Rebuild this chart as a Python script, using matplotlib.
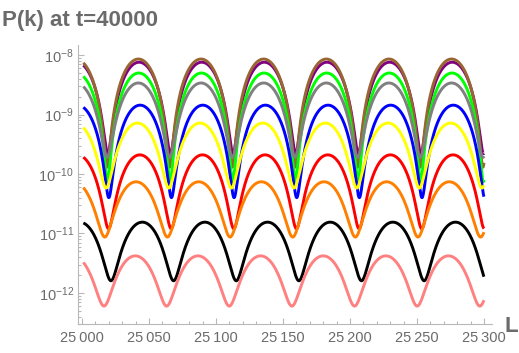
import numpy as np
import matplotlib
matplotlib.use('Agg')
import matplotlib.pyplot as plt
from matplotlib.ticker import FixedLocator, FuncFormatter, LogLocator, NullFormatter

plt.rcParams['font.family'] = ['Liberation Sans', 'DejaVu Sans']
plt.rcParams['mathtext.fontset'] = 'custom'
plt.rcParams['mathtext.rm'] = 'Liberation Sans'
plt.rcParams['mathtext.it'] = 'Liberation Sans:italic'

# values: one entry per curve
names = ['purple', 'brown', 'green', 'gray', 'blue', 'yellow', 'red', 'orange', 'black', 'pink']
colors = [(0.5, 0.0, 0.5), (0.6, 0.4, 0.2), (0.0, 1.0, 0.0), (0.5, 0.5, 0.5), (0.0, 0.0, 1.0),
          (1.0, 1.0, 0.0), (1.0, 0.0, 0.0), (1.0, 0.5, 0.0), (0.0, 0.0, 0.0), (1.0, 0.5, 0.5)]
peaks = [7.6e-9, 8.6e-9, 5.0e-9, 3.4e-9, 1.44e-9, 7.2e-10, 2.1e-10, 7.4e-11, 1.55e-11, 4.2e-12]
troughs = [2.2e-10, 1.3e-10, 7.4e-11, 1.9e-10, 4.0e-11, 5.8e-11, 1.2e-11, 8.7e-12, 1.6e-12, 6.0e-13]
trough_L = [25019.2, 25018.7, 25019.0, 25018.7, 25020.0, 25018.0, 25019.8, 25017.0, 25021.6, 25016.4]
period = 46.75
L_start, L_end = 25001, 25300

xticks = [25000, 25050, 25100, 25150, 25200, 25250, 25300]
ydecades = [1e-12, 1e-11, 1e-10, 1e-9, 1e-8]

L = np.linspace(L_start, L_end, 3000)

fig = plt.figure(figsize=(5.19, 3.53), dpi=100, facecolor='white')
ax = fig.add_axes((78/519, 29/353, 414/519, 279/353))

for c, pk, tr, l0 in zip(colors, peaks, troughs, trough_L):
  P = tr + (pk - tr)*np.sin(np.pi*(L - l0)/period)**2
  ax.plot(L, P, color=c, lw=2.1, solid_capstyle='butt')

ax.set_yscale('log')
ax.set_xlim(24997, 25306)
ax.set_ylim(3.0e-13, 1.48e-8)

axcol = (0.72, 0.72, 0.72)
txtcol = (0.42, 0.42, 0.42)
for s in ['top', 'right']:
  ax.spines[s].set_visible(False)
for s in ['left', 'bottom']:
  ax.spines[s].set_color(axcol)
  ax.spines[s].set_linewidth(0.8)

ax.xaxis.set_major_locator(FixedLocator(xticks))
ax.xaxis.set_minor_locator(FixedLocator(np.arange(25000, 25301, 10)))
ax.xaxis.set_major_formatter(FuncFormatter(lambda v, p: '%d\u2009%03d' % (int(v)//1000, int(v) % 1000)))
ax.yaxis.set_major_locator(FixedLocator(ydecades))
ax.yaxis.set_minor_locator(LogLocator(base=10, subs=np.arange(2, 10)))
ax.yaxis.set_minor_formatter(NullFormatter())
ax.yaxis.set_major_formatter(FuncFormatter(lambda v, p: r'$10^{%d}$' % round(np.log10(v))))

ax.tick_params(which='both', direction='in', color=axcol, labelcolor=txtcol, labelsize=10.5, width=0.8)
ax.tick_params(which='major', length=4.5)
ax.tick_params(which='minor', length=2.3)
ax.tick_params(axis='x', pad=5)
ax.tick_params(axis='y', pad=3)

fig.text(2/519, 1 - 26/353, 'P(k) at t=40000', fontsize=16, fontweight='bold', color=txtcol, va='baseline')
fig.text(504/519, 1 - 332/353, 'L', fontsize=16, fontweight='bold', color=txtcol, va='baseline')

fig.savefig('out.png', dpi=100)
